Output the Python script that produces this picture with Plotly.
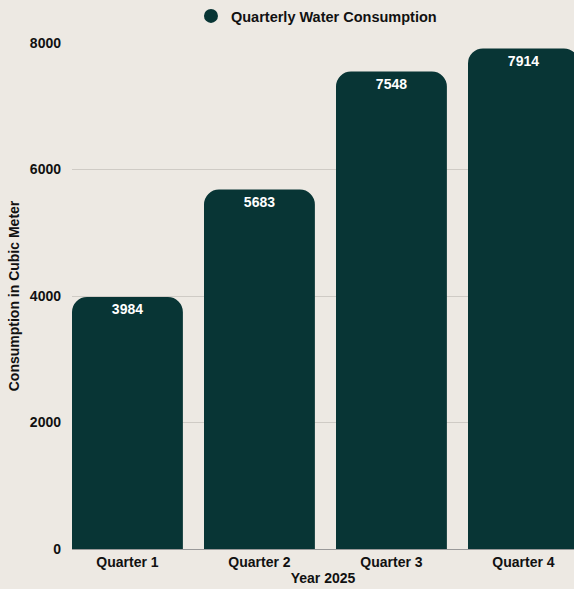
import plotly.graph_objects as go

categories = ["Quarter 1", "Quarter 2", "Quarter 3", "Quarter 4"]
consumption = [3984, 5683, 7548, 7914]
series_name = "Quarterly Water Consumption"
y_ticks = [0, 2000, 4000, 6000, 8000]

BG = "#ede9e3"
BAR = "#083535"
FONT = "Liberation Sans, Arial, sans-serif"

fig = go.Figure()
fig.add_trace(go.Bar(
    x=categories, y=consumption, width=0.84,
    marker=dict(color=BAR, line=dict(width=0)),
    showlegend=False, name=series_name, hoverinfo="x+y",
))
fig.add_trace(go.Scatter(
    x=categories, y=consumption, mode="markers+text",
    marker=dict(size=9, opacity=0),
    text=[str(v) for v in consumption], textposition="bottom center",
    textfont=dict(color="white", size=14, family=FONT, weight="bold"),
    showlegend=False, hoverinfo="skip",
))
fig.add_trace(go.Scatter(
    x=[categories[0]], y=[None], mode="markers", name=series_name,
    marker=dict(color=BAR, size=14, symbol="circle"),
))
fig.update_layout(
    width=574, height=589,
    paper_bgcolor=BG, plot_bgcolor=BG,
    margin=dict(l=72, r=0, t=42, b=40),
    barcornerradius=15,
    font=dict(family=FONT, size=14, color="#111111", weight="bold"),
    legend=dict(orientation="h", x=0.487, xanchor="center", y=1.053, yanchor="middle",
                font=dict(size=14.5, weight="bold"), bgcolor="rgba(0,0,0,0)",
                itemwidth=30),
    xaxis=dict(range=[-0.42, 3.383], showgrid=False, showline=True,
               linecolor="#999999", linewidth=1, ticks="",
               title=dict(text="Year 2025", standoff=2, font=dict(size=14, weight="bold")),
               tickfont=dict(size=14, weight="bold")),
    yaxis=dict(range=[0, 8000], tickvals=y_ticks, showgrid=True,
               gridcolor="#cfcbc5", gridwidth=1, zeroline=False, ticks="",
               ticklabelstandoff=10,
               title=dict(text="Consumption in Cubic Meter", standoff=6,
                          font=dict(size=14, weight="bold")),
               tickfont=dict(size=14, weight="bold")),
)
fig.write_html(
    "out.html",
    config={"displayModeBar": False},
    post_script="document.body.style.margin='0';document.body.style.background='#ede9e3';",
)
